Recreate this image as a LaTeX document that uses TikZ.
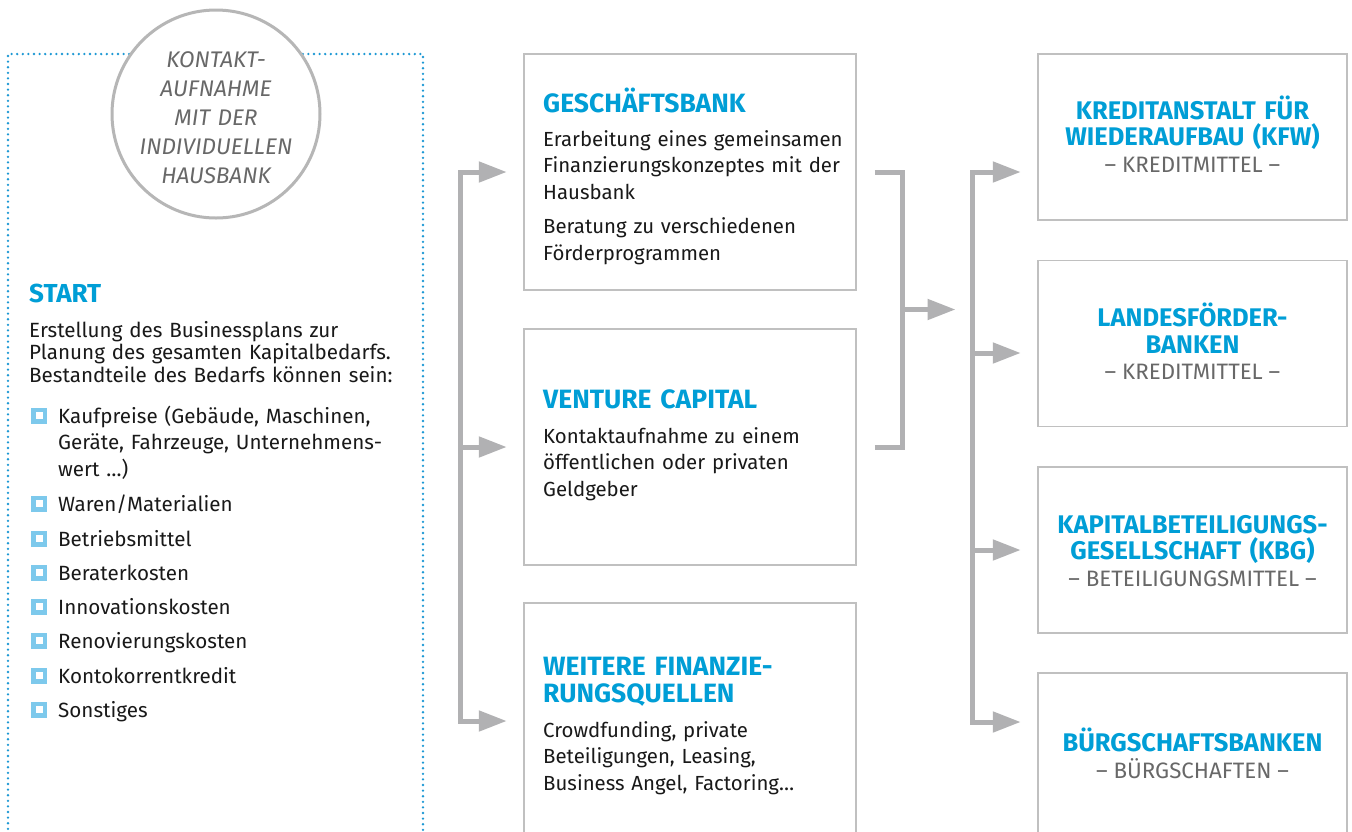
\documentclass[tikz,border=0pt]{standalone}
\usepackage{fontspec}
\setmainfont{Fira Sans}
\usepackage{xcolor}
\definecolor{kfblue}{RGB}{0,158,214}
\definecolor{linegray}{RGB}{177,177,179}
\definecolor{boxgray}{RGB}{192,192,192}
\definecolor{circgray}{RGB}{182,182,182}
\definecolor{textgray}{RGB}{104,104,104}
\definecolor{dotblue}{RGB}{28,152,212}
\definecolor{bulletblue}{RGB}{125,201,236}
\definecolor{bodyblack}{RGB}{25,25,25}
\usetikzlibrary{%
  arrows.meta}

\begin{document}
\begin{tikzpicture}[x=1pt,y=-1pt,
  box/.style={rectangle,draw=boxgray,line width=1.5pt,inner sep=0pt},
  midbox/.style={box,minimum width=332pt,minimum height=236pt},
  sidebox/.style={box,minimum width=309pt,minimum height=166pt},
  head/.style={anchor=base west,inner sep=0pt,text width=330pt,align=left,text=kfblue,font=\bfseries\fontsize{26.5}{27}\selectfont},
  body/.style={anchor=base west,inner sep=0pt,text width=340pt,align=left,text=bodyblack,font=\fontsize{20.4}{26.5}\selectfont},
  rhead/.style={anchor=base,inner sep=0pt,text width=305pt,align=center,text=kfblue,font=\bfseries\fontsize{25.5}{26.5}\selectfont},
  rsub/.style={anchor=base,inner sep=0pt,text=textgray,font=\fontsize{22.3}{26}\selectfont},
  square/.style={rectangle,draw=bulletblue,line width=4.5pt,minimum size=11.5pt,inner sep=0pt},
  dotframe/.style={draw=dotblue,line width=2.6pt,line cap=round,dash pattern=on 0pt off 5.6pt},
  conn/.style={draw=linegray,line width=5pt},
  arr/.style={conn,line cap=rect,-{Triangle[length=28pt,width=20pt]},shorten >=16.5pt}]
\useasboundingbox (0,0) rectangle (1352,831);
\clip (0,0) rectangle (1352,831);
\fill[white] (0,0) rectangle (1352,831);
% cadre du depart
\draw[dotframe] (8,840) -- (8,54) -- (423,54) -- (423,840);
\node (hb) at (216,114) [circle,draw=circgray,line width=3pt,fill=white,minimum size=208pt,inner sep=0pt] {};
\node (hbtext) at (216,67) [anchor=base,inner sep=0pt,text width=204pt,align=center,text=textgray,font=\itshape\fontsize{22.6}{29}\selectfont] {KONTAKT-\\AUFNAHME\\MIT DER\\INDIVIDUELLEN\\HAUSBANK};
\node (start) at (29,302) [head,font=\bfseries\fontsize{26}{27}\selectfont] {START};
\node (intro) at (29,337) [body,text width=392pt,font=\fontsize{20.6}{22.7}\selectfont] {Erstellung des Businessplans zur\\Planung des gesamten Kapitalbedarfs.\\Bestandteile des Bedarfs können sein:};
\node (sq-423) at (39,415.5) [square] {};
\node (item-423) at (58,423) [body,text width=362pt,font=\fontsize{20.6}{26.5}\selectfont] {Kaufpreise (Gebäude, Maschinen,\\Geräte, Fahrzeuge, Unternehmens-\\wert …)};
\foreach \y/\t in {511/{Waren/Materialien},546/Betriebsmittel,580/Beraterkosten,614/Innovationskosten,648/Renovierungskosten,683/Kontokorrentkredit,717/Sonstiges}{
  \node (sq-\y) at (39,\y-7.5) [square] {};
  \node (item-\y) at (58,\y) [body,font=\fontsize{20.6}{26.5}\selectfont] {\t};
}
% finanzierungswege
\node (gb) at (690,172) [midbox] {};
\node (vc) at (690,447) [midbox] {};
\node (wf) at (690,721) [midbox] {};
\node (gbhead) at (543,112) [head] {GESCHÄFTSBANK};
\node (gbtext) at (543,146) [body] {Erarbeitung eines gemeinsamen\\Finanzierungskonzeptes mit der\\Hausbank\\[8pt]Beratung zu verschiedenen\\Förderprogrammen};
\node (vchead) at (543,408) [head] {VENTURE CAPITAL};
\node (vctext) at (543,443) [body] {Kontaktaufnahme zu einem\\öffentlichen oder privaten\\Geldgeber};
\node (wfhead) at (543,675) [head] {WEITERE FINANZIE-\\RUNGSQUELLEN};
\node (wftext) at (543,737) [body] {Crowdfunding, private\\Beteiligungen, Leasing,\\Business Angel, Factoring…};
% foerderinstitute
\node (kfw) at (1192.5,137) [sidebox] {};
\node (lf) at (1192.5,343.5) [sidebox] {};
\node (kbg) at (1192.5,550) [sidebox] {};
\node (bg) at (1192.5,756) [sidebox] {};
\node (kfwhead) at (1192.5,119) [rhead] {KREDITANSTALT FÜR\\WIEDERAUFBAU (KFW)};
\node (kfwsub) at (1192.5,172) [rsub] {– KREDITMITTEL –};
\node (lfhead) at (1192.5,326.5) [rhead] {LANDESFÖRDER-\\BANKEN};
\node (lfsub) at (1192.5,379) [rsub] {– KREDITMITTEL –};
\node (kbghead) at (1192.5,533) [rhead] {KAPITALBETEILIGUNGS-\\GESELLSCHAFT (KBG)};
\node (kbgsub) at (1192.5,586) [rsub] {– BETEILIGUNGSMITTEL –};
\node (bghead) at (1192.5,751) [rhead] {BÜRGSCHAFTSBANKEN};
\node (bgsub) at (1192.5,778) [rsub] {– BÜRGSCHAFTEN –};
% liaisons
\coordinate (lspine) at (460,0);
\coordinate (rspine) at (972,0);
\coordinate (mjoin) at (902,309.5);
\draw[conn,line cap=rect] (gb.west -| lspine) -- (wf.west -| lspine);
\foreach \n in {gb,vc,wf}
  \draw[arr] (\n.west -| lspine) -- (\n.west);
\draw[conn,shorten <=18pt] (gb.east) -| (mjoin);
\draw[conn,shorten <=18pt] (vc.east) -| (mjoin);
\draw[arr] (mjoin) -- (mjoin -| rspine);
\draw[conn,line cap=rect] (rspine |- 0,172) -- (rspine |- 0,722);
\foreach \n/\y in {kfw/172,lf/353,kbg/550,bg/722}
  \draw[arr] (rspine |- 0,\y) -- (\n.west |- 0,\y);
\end{tikzpicture}
\end{document}
